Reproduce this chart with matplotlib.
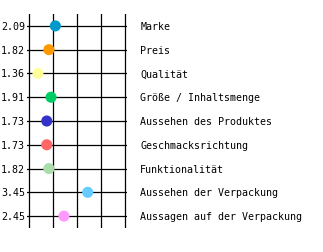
import matplotlib
matplotlib.use("Agg")
import matplotlib.pyplot as plt

categories = ["Marke", "Preis", "Qualität", "Größe / Inhaltsmenge",
              "Aussehen des Produktes", "Geschmacksrichtung", "Funktionalität",
              "Aussehen der Verpackung", "Aussagen auf der Verpackung"]
values = [2.09, 1.82, 1.36, 1.91, 1.73, 1.73, 1.82, 3.45, 2.45]
value_labels = ["2.09", "1.82", "1.36", "1.91", "1.73", "1.73", "1.82", "3.45", "2.45"]
colors = ["#0099cc", "#ff9900", "#ffff99", "#00cc66", "#3333cc",
          "#ff6666", "#aaddaa", "#66ccff", "#ff99ff"]
scale_ticks = [1, 2, 3, 4, 5]

W, H = 323, 253
fig = plt.figure(figsize=(W / 100, H / 100), dpi=100)
left_px, right_px, top_px, bot_px = 27, 127, 15, 229
ax = fig.add_axes([left_px / W, 1 - bot_px / H, (right_px - left_px) / W, (bot_px - top_px) / H])
ax.set_xlim(0.9, 5.1)
n = len(categories)
ax.set_ylim(n - 0.5, -0.5)
for s in ax.spines.values():
    s.set_visible(False)
ax.set_xticks([])
ax.set_yticks([])

for t in scale_ticks:
    ax.axvline(t, color="black", lw=0.9, zorder=1)
for i in range(n):
    ax.axhline(i, color="black", lw=0.9, zorder=1)

ypos = list(range(n))
ax.scatter(values, ypos, s=64, c=colors, zorder=3, linewidths=0)

fs = 7.2
for i in range(n):
    ax.annotate(value_labels[i], xy=(0, i), xycoords=("axes fraction", "data"),
                xytext=(-1.5, 0), textcoords="offset points", ha="right", va="center",
                fontsize=fs, family="DejaVu Sans Mono")
    ax.annotate(categories[i], xy=(1, i), xycoords=("axes fraction", "data"),
                xytext=(9.5, 0), textcoords="offset points", ha="left", va="center",
                fontsize=fs, family="DejaVu Sans Mono")

fig.savefig("out.png", dpi=100)
